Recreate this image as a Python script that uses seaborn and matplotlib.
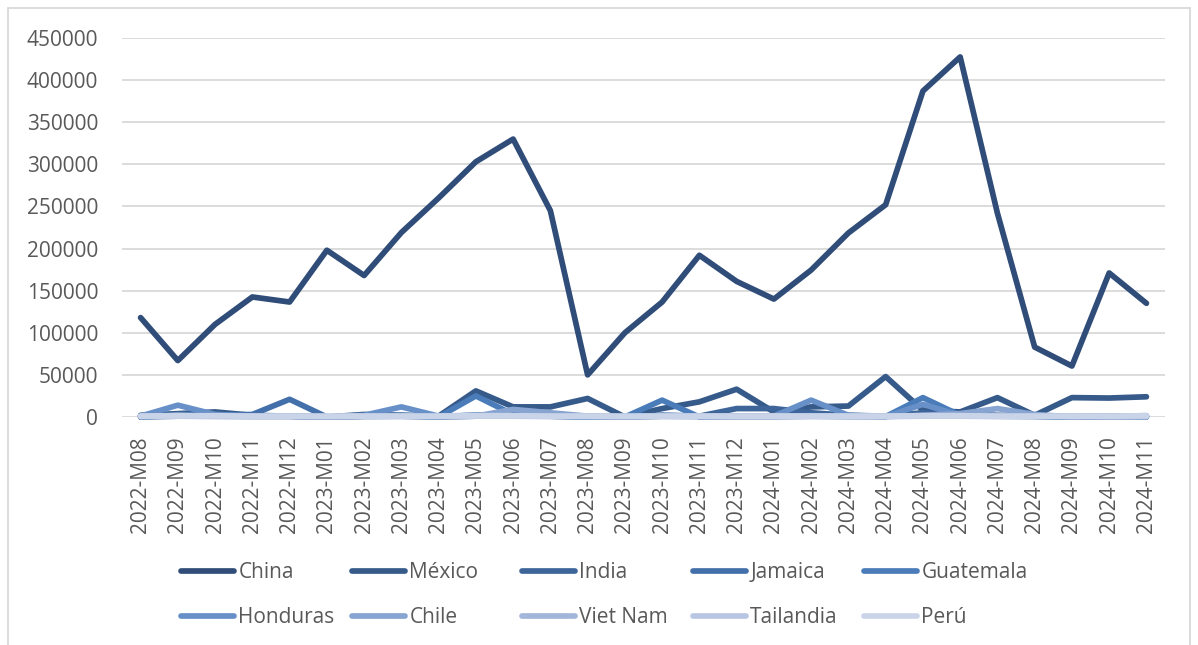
import numpy as np
import pandas as pd
import seaborn as sns
import matplotlib.pyplot as plt
from matplotlib.patches import Rectangle
from matplotlib.lines import Line2D

meses = ["2022-M08", "2022-M09", "2022-M10", "2022-M11", "2022-M12",
         "2023-M01", "2023-M02", "2023-M03", "2023-M04", "2023-M05", "2023-M06",
         "2023-M07", "2023-M08", "2023-M09", "2023-M10", "2023-M11", "2023-M12",
         "2024-M01", "2024-M02", "2024-M03", "2024-M04", "2024-M05", "2024-M06",
         "2024-M07", "2024-M08", "2024-M09", "2024-M10", "2024-M11"]

paises = ["China", "México", "India", "Jamaica", "Guatemala",
          "Honduras", "Chile", "Viet Nam", "Tailandia", "Perú"]

china = [118000, 67000, 110000, 142500, 136500, 198000, 168000, 219000, 260000, 303000,
         330000, 245000, 50000, 100000, 136500, 192000, 161000, 140000, 174500, 218500,
         252000, 387000, 427500, 242000, 83000, 60500, 171000, 135000]
mexico = [2000, 4000, 6000, 2000, 1000, 0, 3000, 2000, 1000, 31000, 12000, 12000, 22000, 0,
          10000, 18000, 33000, 6000, 12000, 13000, 48000, 8000, 6000, 23000, 2000, 23000,
          22500, 24000]
india = [0, 2000, 3000, 1000, 1000, 0, 1000, 1000, 500, 2000, 3000, 2000, 1000, 0, 2000,
         1000, 10000, 10000, 5000, 2000, 1000, 5000, 3000, 2000, 1000, 500, 1000, 1500]
jamaica = [1000, 3000, 2000, 3000, 21000, 0, 1000, 2000, 0, 1000, 1000, 1000, 0, 0, 1000,
           1000, 1000, 1000, 2000, 1000, 1000, 2000, 1000, 1000, 1000, 0, 1000, 0]
guatemala = [0, 1000, 1000, 1000, 1000, 0, 1000, 1000, 0, 25000, 3000, 1000, 0, 0, 20000,
             0, 500, 500, 1000, 500, 500, 23000, 2000, 1000, 1000, 0, 500, 500]
honduras = [1000, 14000, 3000, 1000, 1000, 0, 2000, 12000, 1000, 2000, 1000, 1000, 0, 0,
            2000, 1000, 1000, 1000, 20000, 2000, 500, 15000, 2000, 1000, 500, 0, 500, 500]
chile = [500, 2000, 1000, 500, 500, 0, 500, 1000, 500, 1000, 9000, 5000, 1000, 0, 1000, 500,
         500, 500, 1000, 1000, 500, 2000, 4000, 10000, 3000, 0, 500, 500]
vietnam = [1000, 1500, 1000, 1000, 1000, 500, 1000, 1000, 1000, 1500, 1500, 1000, 1000, 500,
           1000, 1000, 1000, 1500, 1000, 1000, 1000, 1500, 1500, 1000, 1000, 1000, 1000, 1000]
tailandia = [500, 1000, 500, 500, 500, 500, 500, 500, 500, 1000, 1000, 500, 500, 500, 500,
             500, 500, 500, 500, 500, 500, 1000, 1000, 500, 500, 500, 500, 500]
peru = [1000, 1500, 1500, 1000, 1000, 1000, 1000, 1000, 1000, 1500, 1500, 1000, 1000, 1000,
        1000, 1000, 1000, 1000, 1000, 1000, 1000, 1500, 1500, 1000, 1000, 1000, 1000, 1500]

colores = ["#2f4d78", "#365a8a", "#3d659a", "#4370aa", "#4a7cba",
           "#6790c8", "#88a4d1", "#a2b6da", "#b8c6e2", "#cad4e8"]

series = [china, mexico, india, jamaica, guatemala, honduras, chile, vietnam, tailandia, peru]
df = pd.DataFrame({"mes": meses * len(paises),
                   "pais": np.repeat(paises, len(meses)),
                   "valor": np.concatenate(series)})
df["pos"] = np.tile(np.arange(len(meses)), len(paises))

sns.set_style("white")
plt.rcParams["font.family"] = ["Open Sans", "DejaVu Sans"]

fig = plt.figure(figsize=(11.98, 6.45), dpi=100)
ax = fig.add_axes([0.1018, 0.3535, 0.8707, 0.5876])

sns.lineplot(data=df, x="pos", y="valor", hue="pais", hue_order=paises,
             palette=colores, linewidth=4.1, ax=ax, legend=False, sort=False)
for ln in ax.lines:
    ln.set_solid_capstyle("round")
    ln.set_solid_joinstyle("round")
    ln.set_clip_on(False)

ax.set_xlim(-0.5, len(meses) - 0.5)
ax.set_ylim(0, 450000)
ax.set_yticks(np.arange(0, 450001, 50000))
ax.set_xticks(np.arange(len(meses)))
ax.set_xticklabels(meses, rotation=90)
ax.set_xlabel("")
ax.set_ylabel("")
ax.grid(axis="y", color="#d9d9d9", linewidth=1.3)
ax.set_axisbelow(True)
for s in ax.spines.values():
    s.set_visible(False)
ax.tick_params(axis="y", length=0, pad=17, labelsize=15, labelcolor="#595959")
ax.tick_params(axis="x", length=0, pad=14, labelsize=15, labelcolor="#595959")

# leyenda: una columna por cada par de países, con el mismo ancho
handles = [Line2D([0], [0], color=c, linewidth=4.1, solid_capstyle="round") for c in colores]
col_x = [181, 352, 522, 693, 864]
for c, x in enumerate(col_x):
    fig.legend([handles[c], handles[c + 5]], [paises[c], paises[c + 5]],
               loc="center left", bbox_to_anchor=(x / 1198, 1 - 595 / 645),
               frameon=False, fontsize=15, borderpad=0, borderaxespad=0,
               handlelength=2.55, handletextpad=0.2, labelspacing=1.15,
               labelcolor="#595959")

fig.patches.append(Rectangle((8 / 1198, -0.05), 1182 / 1198, 1 - 8 / 645 + 0.05,
                             transform=fig.transFigure, fill=False,
                             edgecolor="#d9d9d9", linewidth=1.3))

fig.savefig("out.png", dpi=100)
